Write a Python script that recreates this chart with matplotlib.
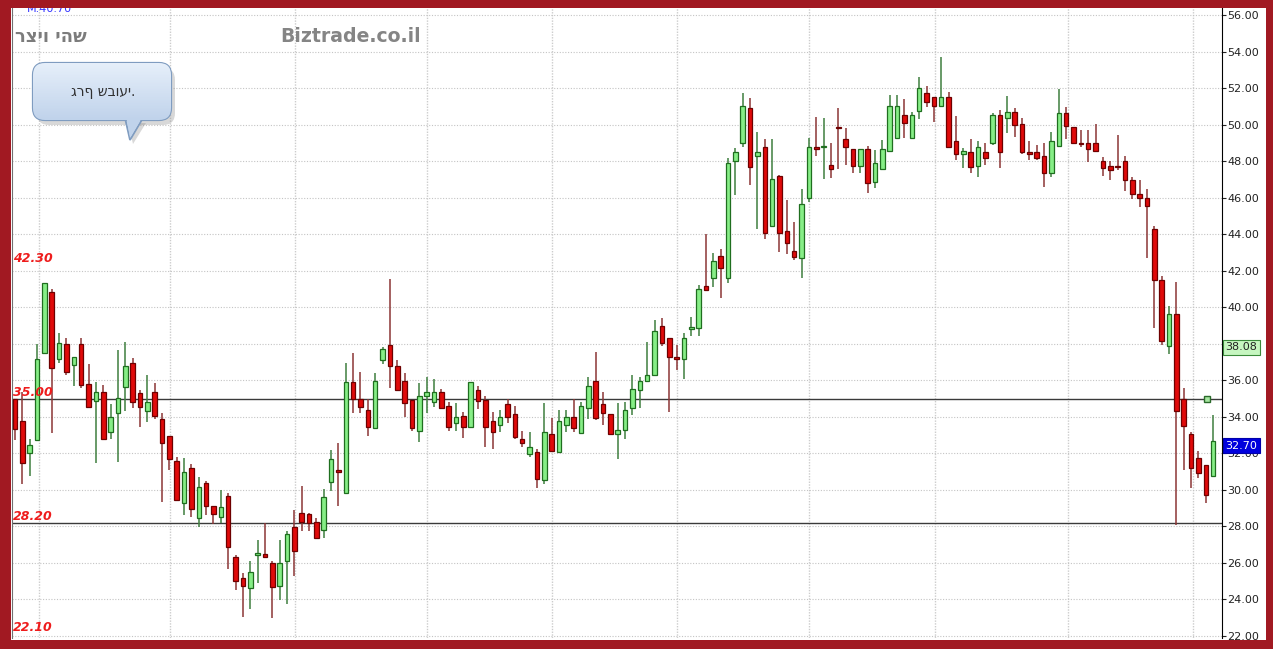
import numpy as np
import matplotlib
matplotlib.use('Agg')
import matplotlib.pyplot as plt
from matplotlib.patches import Rectangle, FancyBboxPatch, Polygon
import matplotlib.transforms as mtransforms

# weekly candles, oldest first
opens = [34.95, 33.79, 32.0, 32.73, 37.47, 40.82, 37.15, 37.97, 36.84, 37.97,
         35.79, 34.88, 35.37, 33.18, 34.22, 35.65, 36.96, 35.28, 34.33, 35.37,
         33.88, 32.96, 31.58, 29.29, 31.22, 28.43, 30.35, 29.13, 28.49, 29.66,
         26.33, 25.15, 24.63, 26.42, 26.51, 25.97, 24.75, 26.11, 27.97, 28.74,
         28.65, 28.21, 27.8, 30.44, 31.08, 29.8, 35.89, 34.97, 34.37, 33.37,
         37.11, 37.93, 36.8, 35.96, 34.92, 33.24, 35.16, 34.79, 35.37, 34.59,
         33.67, 34.06, 33.46, 35.47, 34.92, 33.79, 33.55, 34.7, 34.15, 32.78,
         31.96, 32.05, 30.53, 33.06, 32.05, 33.55, 34.0, 33.09, 34.46, 35.96,
         34.68, 34.15, 33.04, 33.27, 34.46, 35.47, 35.96, 36.29, 38.97, 38.3,
         37.29, 37.15, 38.79, 38.85, 41.18, 41.58, 42.81, 41.62, 48.03, 48.98,
         50.9, 48.3, 48.8, 44.47, 47.21, 44.18, 43.08, 42.68, 45.97, 48.8,
         48.78, 47.79, 49.89, 49.2, 48.67, 47.72, 48.65, 46.88, 47.56, 48.56,
         49.29, 50.53, 49.29, 50.77, 51.72, 51.54, 51.04, 51.54, 49.13, 48.4,
         48.52, 47.76, 48.52, 48.98, 50.53, 50.35, 50.68, 50.02, 48.52, 48.52,
         48.3, 47.37, 48.83, 50.62, 49.89, 48.97, 48.98, 48.98, 48.01, 47.76,
         47.74, 48.01, 46.97, 46.2, 45.97, 44.29, 41.49, 37.88, 39.61, 34.95,
         33.05, 31.77, 31.35, 30.75]
highs = [35.0, 35.37, 32.76, 37.97, 41.31, 40.98, 38.57, 38.3, 37.29, 38.3,
         36.89, 35.92, 35.74, 34.7, 37.66, 38.11, 37.2, 35.47, 36.29, 35.87,
         34.19, 32.96, 31.81, 31.76, 31.4, 30.68, 30.48, 29.13, 29.98, 29.8,
         26.42, 25.46, 26.11, 27.25, 28.16, 26.11, 27.25, 27.75, 28.92, 30.21,
         28.71, 28.43, 30.02, 32.18, 32.58, 36.93, 37.48, 36.47, 35.0, 36.38,
         37.84, 41.53, 37.11, 36.38, 34.92, 35.87, 36.2, 36.05, 35.5, 34.83,
         34.73, 34.24, 35.92, 35.68, 35.16, 34.24, 34.37, 34.97, 34.59, 33.24,
         33.15, 32.23, 34.74, 33.95, 34.37, 34.37, 35.0, 34.83, 36.16, 37.57,
         35.37, 34.15, 34.73, 34.83, 36.29, 36.2, 38.08, 39.3, 39.39, 38.3,
         37.93, 38.61, 39.48, 41.22, 44.0, 42.99, 43.19, 48.16, 48.71, 51.72,
         51.48, 49.62, 49.2, 49.2, 47.25, 45.88, 44.69, 46.46, 49.29, 50.44,
         50.39, 49.02, 50.9, 49.8, 48.67, 48.65, 48.85, 48.62, 49.16, 51.63,
         51.63, 51.39, 50.72, 52.6, 52.12, 51.54, 53.73, 51.81, 50.48, 48.71,
         49.2, 49.13, 49.02, 50.62, 50.81, 51.57, 50.9, 50.39, 49.13, 48.89,
         49.02, 49.62, 51.94, 50.98, 49.89, 49.71, 49.71, 50.04, 48.21, 48.01,
         49.44, 48.3, 47.15, 47.0, 46.46, 44.47, 41.73, 40.07, 41.4, 35.59,
         33.18, 32.14, 31.35, 34.1]
lows = [32.73, 30.3, 30.75, 32.68, 37.47, 33.09, 36.96, 36.29, 35.68, 35.56,
        34.55, 31.45, 32.76, 32.76, 31.54, 34.33, 34.46, 33.45, 33.73, 33.86,
        29.35, 31.08, 29.44, 28.62, 28.52, 27.98, 28.62, 28.1, 28.2, 25.64,
        24.5, 23.05, 23.45, 24.87, 26.3, 22.95, 23.96, 23.74, 25.27, 27.76,
        27.76, 27.34, 27.38, 29.95, 29.1, 29.8, 34.19, 34.19, 32.96, 33.37,
        36.89, 35.56, 35.47, 34.0, 33.24, 32.64, 34.19, 34.55, 34.46, 33.24,
        33.24, 32.85, 33.37, 34.41, 32.32, 32.23, 33.18, 33.64, 32.76, 32.36,
        31.78, 30.08, 30.3, 32.12, 31.99, 33.18, 33.18, 33.09, 33.86, 33.82,
        33.55, 33.04, 31.67, 32.76, 34.1, 34.46, 35.92, 36.24, 37.9, 34.26,
        36.54, 36.06, 38.44, 38.44, 40.95, 41.13, 40.49, 41.31, 46.15, 48.8,
        46.7, 44.27, 43.72, 44.38, 43.05, 42.92, 42.59, 41.58, 45.79, 48.29,
        47.03, 47.06, 47.6, 47.79, 47.37, 47.37, 46.28, 46.52, 47.56, 48.56,
        49.29, 49.29, 49.29, 50.32, 50.99, 50.17, 51.04, 48.71, 48.07, 47.61,
        47.37, 47.15, 47.79, 48.89, 47.61, 49.53, 49.31, 48.4, 48.07, 48.07,
        46.6, 47.15, 48.83, 49.2, 48.93, 48.8, 47.97, 48.52, 47.19, 47.0,
        47.52, 46.37, 45.91, 45.51, 42.68, 38.89, 37.93, 37.42, 28.07, 31.1,
        30.08, 30.63, 29.26, 30.68]
closes = [33.31, 31.45, 32.45, 37.16, 41.31, 36.69, 38.06, 36.47, 37.26, 35.74,
          34.55, 35.37, 32.76, 34.0, 35.05, 36.8, 34.83, 34.55, 34.79, 34.04,
          32.54, 31.67, 29.44, 30.99, 28.93, 30.13, 29.13, 28.65, 29.07, 26.84,
          25.02, 24.75, 25.51, 26.55, 26.33, 24.65, 25.97, 27.57, 26.64, 28.25,
          28.16, 27.34, 29.62, 31.67, 30.99, 35.92, 35.0, 34.52, 33.46, 35.96,
          37.69, 36.78, 35.47, 34.73, 33.37, 35.16, 35.37, 35.37, 34.46, 33.46,
          34.0, 33.46, 35.89, 34.88, 33.46, 33.18, 34.0, 34.0, 32.91, 32.54,
          32.36, 30.59, 33.15, 32.12, 33.79, 34.0, 33.4, 34.59, 35.68, 33.91,
          34.19, 33.04, 33.27, 34.37, 35.5, 35.96, 36.29, 38.72, 38.06, 37.29,
          37.15, 38.3, 38.9, 40.98, 40.95, 42.53, 42.13, 47.89, 48.52, 51.02,
          47.67, 48.52, 44.09, 47.01, 44.09, 43.5, 42.73, 45.64, 48.8, 48.67,
          48.83, 47.56, 49.8, 48.76, 47.76, 48.65, 46.83, 47.89, 48.67, 51.03,
          51.03, 50.12, 50.53, 52.0, 51.26, 51.04, 51.54, 48.8, 48.4, 48.56,
          47.7, 48.8, 48.19, 50.53, 48.52, 50.68, 49.98, 48.49, 48.4, 48.19,
          47.37, 49.13, 50.62, 49.93, 48.98, 48.93, 48.65, 48.56, 47.65, 47.52,
          47.7, 46.97, 46.19, 45.97, 45.57, 41.49, 38.15, 39.61, 34.33, 33.51,
          31.22, 30.9, 29.74, 32.7]

levels = [42.30, 35.00, 28.20, 22.10]
level_lines = [35.00, 28.20]
vgrid = [3.3, 21.1, 38.1, 56.0, 73.1, 90.1, 108.0, 125.2, 143.2, 160.2]
yticks = np.arange(22, 57, 2)
ma_value = 38.08
last_value = 32.70
alert_idx, alert_value = 162.1, 35.00

W, H = 1273, 649
fig = plt.figure(figsize=(W / 100, H / 100), dpi=100)
fig.patch.set_facecolor('white')
ax = fig.add_axes([12 / W, 11 / H, 1210 / W, 630 / H])
ax.set_xlim(-0.41, 164.2)
ax.set_ylim(21.88, 56.4)

o = np.array(opens); h = np.array(highs); l = np.array(lows); c = np.array(closes)
x = np.arange(len(o))
up = c >= o

ax.vlines(x[up], l[up], h[up], color='#3f7f3f', lw=1.1, zorder=3)
ax.vlines(x[~up], l[~up], h[~up], color='#8b3535', lw=1.1, zorder=3)
body = np.maximum(np.abs(c - o), 0.06)
ax.bar(x[up], body[up], bottom=np.minimum(o, c)[up], width=0.62,
       color='#86ee86', edgecolor='#1f6e1f', lw=0.9, zorder=4)
ax.bar(x[~up], body[~up], bottom=np.minimum(o, c)[~up], width=0.62,
       color='#e00a0a', edgecolor='#6e0000', lw=0.9, zorder=4)

# grid
ax.set_yticks(yticks)
ax.set_yticklabels(['%.2f' % v for v in yticks])
ax.grid(axis='y', linestyle=(0, (1, 1.5)), color='#c4c4c4', lw=0.8)
for g in vgrid:
    ax.axvline(g, linestyle=(0, (1, 1)), color='#cccccc', lw=1.0, zorder=1)
ax.set_xticks([])
ax.yaxis.tick_right()
ax.tick_params(axis='y', labelsize=8, length=3, width=0.8, pad=1, colors='#222222')
for s in ['top', 'bottom']:
    ax.spines[s].set_visible(False)
ax.spines['right'].set_color('black')
ax.spines['left'].set_color('#707070')

for lv in level_lines:
    ax.axhline(lv, color='#3a3a3a', lw=1.0, zorder=2)
trans = mtransforms.blended_transform_factory(ax.transAxes, ax.transData)
for lv in levels:
    ax.text(0.001, lv, '%.2f' % lv, transform=trans, color='#ee1c1c',
            fontsize=9, style='italic', weight='bold', va='bottom', ha='left', zorder=6)

ax.plot(alert_idx, alert_value, marker='s', ms=5, mfc='#a6e6a0', mec='#2a6a2a', mew=1, zorder=6)

ax.text(1.003, ma_value, '%.2f' % ma_value, transform=trans, fontsize=8, va='top', ha='left',
        color='#222222', bbox=dict(boxstyle='square,pad=0.2', fc='#c6f6c0', ec='#3a8a3a', lw=0.8))
ax.text(1.003, last_value, '%.2f' % last_value, transform=trans, fontsize=8, va='top', ha='left',
        color='white', bbox=dict(boxstyle='square,pad=0.2', fc='#0000dd', ec='#0000aa', lw=0.8))

# overlay in pixel coords
ov = fig.add_axes([0, 0, 1, 1], zorder=5)
ov.set_xlim(0, W)
ov.set_ylim(H, 0)
ov.axis('off')
ov.patch.set_alpha(0)

ov.text(27, 14, 'M:40.70', color='#3535ff', fontsize=8, va='bottom', ha='left')
ov.text(15, 37, 'רציו יהש', color='#7c7c7c', fontsize=13, weight='bold', va='center', ha='left')
ov.text(280, 37, 'Biztrade.co.il', color='#858585', fontsize=13.6, weight='bold', va='center', ha='left')

# callout
shadow = FancyBboxPatch((37, 68), 138, 57, boxstyle='round,pad=0,rounding_size=12',
                        fc='#909090', ec='none', alpha=0.35)
ov.add_patch(shadow)
ov.add_patch(Polygon([[128, 123], [146, 123], [133, 144]], closed=True, fc='#909090', ec='none', alpha=0.35))
tail = Polygon([[125, 118], [143, 118], [130, 140]], closed=True, fc='#c9daee', ec='#7f9cc0', lw=1.3)
ov.add_patch(tail)
box = FancyBboxPatch((33, 63), 138, 57, boxstyle='round,pad=0,rounding_size=12',
                     fc='#d6e4f4', ec='#7f9cc0', lw=1.6)
ov.add_patch(box)
grad = np.linspace(0, 1, 60).reshape(-1, 1)
im = ov.imshow(grad, extent=[33, 171, 120, 63], cmap=matplotlib.colors.LinearSegmentedColormap.from_list(
    'b', ['#e6effa', '#c0d3eb']), aspect='auto', zorder=2.5)
im.set_clip_path(box)
ov.add_patch(Polygon([[126.5, 118.5], [141.5, 118.5], [130, 138]], closed=True, fc='#c0d3eb', ec='none', zorder=2.6))
ov.text(103, 92, 'גרף שבועי.', color='#303030', fontsize=10, va='center', ha='center', zorder=3)
ov.set_xlim(0, W)
ov.set_ylim(H, 0)

# red frame
fc = '#a11922'
for r in [(0, 0, W, 8), (0, 0, 11, H), (0, 640, W, 9), (1266, 0, 7, H)]:
    ov.add_patch(Rectangle((r[0], r[1]), r[2], r[3], fc=fc, ec='none', zorder=10))

fig.savefig('out.png', dpi=100, facecolor='white')
